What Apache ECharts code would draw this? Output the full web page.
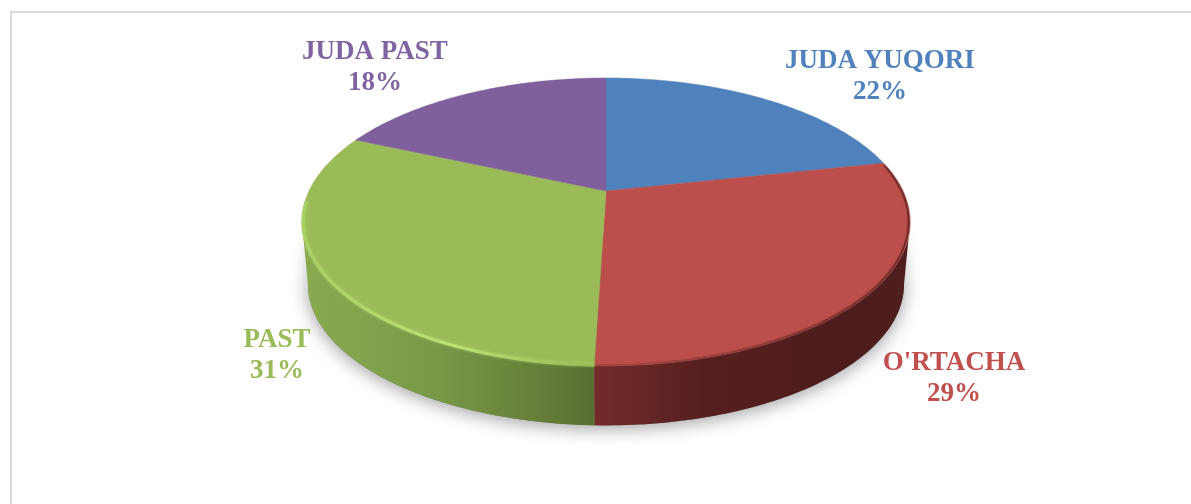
<!DOCTYPE html>
<html>
<head>
<meta charset="utf-8">
<title>Pie</title>
<style>
  html, body { margin: 0; padding: 0; background: #fff; }
  #chart { width: 1191px; height: 504px; }
</style>
<script src="https://cdn.jsdelivr.net/npm/echarts@6/dist/echarts.min.js"></script>
</head>
<body>
<div id="chart"></div>
<script>
var categories = ["JUDA YUQORI", "O'RTACHA", "PAST", "JUDA PAST"];
var sliceValues = [21.6, 28.9, 31.1, 18.4];
var colors = ["#4f81bd", "#bc4f4b", "#9bbb59", "#7f609c"];
var labelColors = ["#4f81bd", "#c0504d", "#9bbb59", "#8064a2"];

// pie placement on the page
var cx = 606, cy = 191;
var A = 297, B = 137.3, K = 0.215;   // perspective tilted disc
var DEPTH = 63, BOTTOM_SCALE = 0.98;
var FRONT_FROM = 102.4, FRONT_TO = 257.6;  // visible part of the side wall

// where each label block is centred
var labelAt = [[880, 77], [954, 379], [277, 356], [375, 68]];

// degrees clockwise from 12 o'clock -> page position
function project(deg, bottom) {
  var t = deg * Math.PI / 180;
  var u = Math.sin(t), v = -Math.cos(t);
  var d = 1 - K * v;
  var s = bottom ? BOTTOM_SCALE : 1;
  return [cx + s * A * u / d, cy + (bottom ? DEPTH : 0) + s * B * v / d];
}

function arc(from, to, bottom) {
  var pts = [];
  var n = Math.max(2, Math.ceil(Math.abs(to - from)));
  for (var i = 0; i <= n; i++) {
    pts.push(project(from + (to - from) * i / n, bottom));
  }
  return pts;
}

function sliceRange(index) {
  var total = sliceValues.reduce(function (a, b) { return a + b; }, 0);
  var before = 0;
  for (var i = 0; i < index; i++) before += sliceValues[i];
  return [before / total * 360, (before + sliceValues[index]) / total * 360];
}

function hGradient(stops) {
  return new echarts.graphic.LinearGradient(0, 0, 1, 0, stops);
}

var wallFill = {
  1: function () {
    return hGradient([
      { offset: 0, color: "#722b2a" },
      { offset: 0.35, color: "#561f1f" },
      { offset: 0.8, color: "#4d1c1c" },
      { offset: 1, color: "#4f1e1e" }
    ]);
  },
  2: function () {
    return hGradient([
      { offset: 0, color: "#8aaa50" },
      { offset: 0.45, color: "#7a9948" },
      { offset: 0.8, color: "#667f39" },
      { offset: 1, color: "#586f30" }
    ]);
  }
};

var rimStyle = {
  1: function () {
    return {
      stroke: hGradient([
        { offset: 0, color: "rgba(110,40,38,0.2)" },
        { offset: 0.5, color: "rgba(90,30,30,0.4)" },
        { offset: 1, color: "rgba(70,25,25,0.6)" }
      ]),
      lineWidth: 2,
      shadowBlur: 3,
      shadowColor: "rgba(70,20,20,0.35)"
    };
  },
  2: function () {
    return {
      stroke: hGradient([
        { offset: 0, color: "#a8cf63" },
        { offset: 0.5, color: "#bce276" },
        { offset: 0.85, color: "#a3c45e" },
        { offset: 1, color: "#9bbb59" }
      ]),
      lineWidth: 3,
      shadowBlur: 3,
      shadowColor: "rgba(180,220,110,0.7)"
    };
  }
};

function renderShadow() {
  // only the lower outline throws a shadow; upper corners stay behind the wall
  var pts = arc(FRONT_FROM, FRONT_TO, true);
  var right = project(FRONT_FROM, false), left = project(FRONT_TO, false);
  pts.push([left[0] + 12, left[1] + 16], [right[0] - 12, right[1] + 16]);
  return {
    type: "polygon",
    shape: { points: pts },
    style: {
      fill: "#8a8a8a",
      shadowBlur: 18,
      shadowOffsetY: 3,
      shadowColor: "rgba(0,0,0,0.38)"
    }
  };
}

function renderSlice(params, api) {
  var i = params.dataIndex;
  var range = sliceRange(i);
  var children = [];

  // side wall, only the part that faces the viewer
  var a = Math.max(range[0], FRONT_FROM), b = Math.min(range[1], FRONT_TO);
  if (a < b) {
    var topEdge = arc(a, b, false);
    var lowEdge = arc(b, a, true);
    children.push({
      type: "polygon",
      shape: { points: topEdge.concat(lowEdge) },
      style: { fill: wallFill[i]() }
    });
  }

  // top face
  var face = [[cx, cy]].concat(arc(range[0], range[1], false));
  children.push({
    type: "polygon",
    shape: { points: face },
    style: { fill: colors[i], stroke: colors[i], lineWidth: 0.5 }
  });

  // bevel along the edge, drawn just inside the rim so it stays in the outline
  if (rimStyle[i]) {
    var rim = rimStyle[i]();
    var from = i === 1 ? range[0] + 1 : a;
    var to = i === 2 ? b + 8 : b;
    var inset = arc(from, to, false).map(function (p) {
      return [cx + (p[0] - cx) * 0.995, cy + (p[1] - cy) * 0.995];
    });
    children.push({
      type: "polyline",
      shape: { points: inset },
      style: {
        fill: "none",
        stroke: rim.stroke,
        lineWidth: rim.lineWidth,
        shadowBlur: rim.shadowBlur,
        shadowColor: rim.shadowColor
      }
    });
  }

  children.push({
    type: "text",
    z2: 10,
    style: {
      x: labelAt[i][0],
      y: labelAt[i][1],
      text: categories[i] + "\n" + Math.round(api.value(1)) + "%",
      fill: labelColors[i],
      align: "center",
      verticalAlign: "middle",
      font: 'bold 27px "Liberation Serif"',
      lineHeight: 31
    }
  });

  return { type: "group", children: children };
}

var chart = echarts.init(document.getElementById("chart"), null, { renderer: "canvas" });

chart.setOption({
  animation: false,
  backgroundColor: "#ffffff",
  xAxis: { show: false },
  yAxis: { show: false },
  graphic: [
    { type: "rect", shape: { x: 10, y: 11, width: 1181, height: 2 }, style: { fill: "#d9d9d9" } },
    { type: "rect", shape: { x: 10, y: 11, width: 2, height: 493 }, style: { fill: "#d9d9d9" } }
  ],
  series: [
    {
      type: "custom",
      coordinateSystem: "none",
      z: 1,
      data: [[0]],
      renderItem: renderShadow,
      silent: true
    },
    {
      type: "custom",
      coordinateSystem: "none",
      z: 2,
      data: categories.map(function (name, i) { return [i, sliceValues[i]]; }),
      renderItem: renderSlice
    }
  ]
});

window.addEventListener("resize", function () {
  chart.resize();
});
</script>
</body>
</html>
